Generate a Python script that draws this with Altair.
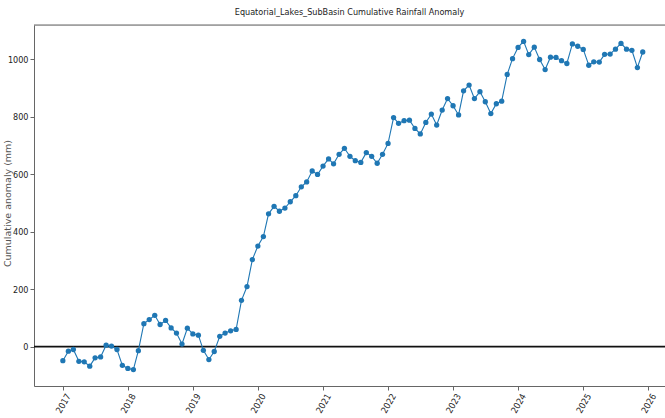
import altair as alt
import pandas as pd

# Monthly cumulative rainfall anomaly (mm), one list per year, Jan..Dec
years = [2017, 2018, 2019, 2020, 2021, 2022, 2023, 2024, 2025]
anom_2017 = [-49, -16, -10, -51, -53, -68, -39, -36, 5, 2, -10, -65]
anom_2018 = [-76, -80, -14, 80, 94, 109, 77, 91, 65, 47, 9, 64]
anom_2019 = [44, 40, -13, -45, -17, 36, 47, 55, 60, 161, 209, 303]
anom_2020 = [350, 383, 462, 488, 471, 482, 504, 525, 556, 573, 611, 599]
anom_2021 = [628, 653, 636, 669, 690, 662, 647, 641, 675, 662, 638, 669]
anom_2022 = [707, 797, 777, 786, 788, 759, 740, 780, 809, 771, 823, 863]
anom_2023 = [838, 806, 890, 910, 863, 887, 852, 811, 845, 854, 947, 1002]
anom_2024 = [1041, 1062, 1016, 1042, 999, 964, 1007, 1006, 995, 985, 1053, 1045]
anom_2025 = [1034, 979, 991, 990, 1017, 1018, 1035, 1055, 1035, 1031, 971, 1025]

series = [anom_2017, anom_2018, anom_2019, anom_2020, anom_2021,
          anom_2022, anom_2023, anom_2024, anom_2025]

rows = []
for yr, vals in zip(years, series):
    for m, v in enumerate(vals, start=1):
        rows.append({"date": f"{yr}-{m:02d}-01T00:00:00", "anomaly": v})
df = pd.DataFrame(rows)

tick_years = list(range(2017, 2027))
y_ticks = [0, 200, 400, 600, 800, 1000]

FONT = "Liberation Sans Narrow, DejaVu Sans Condensed, DejaVu Sans"
W, H = 631, 361
BLUE = "#1f77b4"

x_enc = alt.X(
    "date:T",
    scale=alt.Scale(domain=[alt.DateTime(year=2016, month=7, date=23),
                            alt.DateTime(year=2026, month=4, date=5)]),
    axis=alt.Axis(
        values=[alt.DateTime(year=y, month=1, date=1) for y in tick_years],
        format="%Y", title=None, grid=False,
        labelAngle=-60, labelAlign="center", labelBaseline="middle",
        labelPadding=13, tickSize=4, labelFontSize=9, labelFont=FONT,
        labelColor="#222", domainColor="#666", tickColor="#666",
    ),
)
y_enc = alt.Y(
    "anomaly:Q",
    scale=alt.Scale(domain=[-137, 1119], nice=False, zero=False),
    axis=alt.Axis(
        values=y_ticks, format="d", grid=False,
        title="Cumulative anomaly (mm)",
        titleFontSize=9.5, titleFontWeight="normal", titleFont="DejaVu Sans",
        titleColor="#555", titleX=-27, titleY=178, titleAngle=270,
        titleAlign="center", titleBaseline="middle",
        labelFontSize=9, labelFont=FONT, labelColor="#222", labelPadding=2,
        tickSize=4, domainColor="#666", tickColor="#666",
    ),
)

base = alt.Chart(df).encode(x=x_enc, y=y_enc)
line = base.mark_line(color=BLUE, strokeWidth=1.1)
pts = base.mark_circle(color=BLUE, size=28, opacity=1)

zero = alt.Chart(pd.DataFrame({"v": [0]})).mark_rule(
    color="#111", strokeWidth=1.6
).encode(y=alt.Y("v:Q"))

top_spine = alt.Chart(pd.DataFrame({"v": [0]})).mark_rule(
    color="#666", strokeWidth=1
).encode(x=alt.value(0), x2=alt.value(W), y=alt.value(0))

chart = (
    alt.layer(zero, line, pts, top_spine)
    .properties(
        width=W, height=H,
        title=alt.TitleParams(
            "Equatorial_Lakes_SubBasin Cumulative Rainfall Anomaly",
            fontSize=9, font=FONT, fontWeight="normal", color="#222",
            anchor="middle", offset=8,
        ),
        autosize=alt.AutoSizeParams(type="none"),
        padding={"left": 34, "top": 25, "right": 0, "bottom": 32},
    )
    .configure_view(stroke=None)
    .configure(background="white")
)

chart.save("out.html", embed_options={"renderer": "svg", "actions": False})
